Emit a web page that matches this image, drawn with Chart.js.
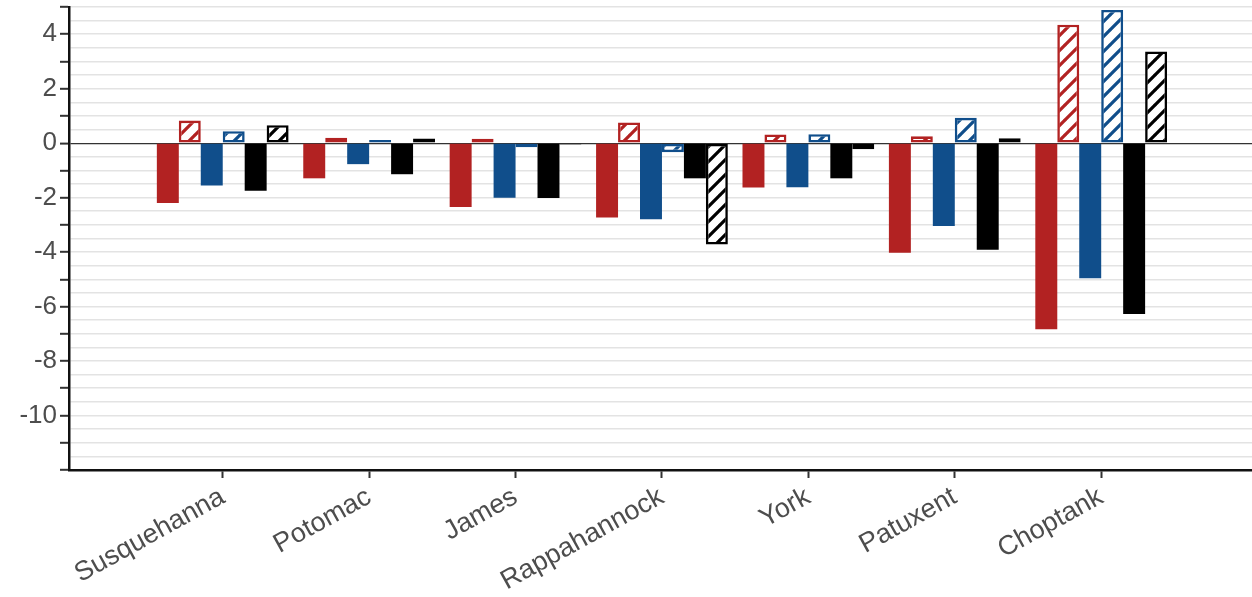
<!DOCTYPE html>
<html>
<head>
<meta charset="utf-8">
<script src="https://cdn.jsdelivr.net/npm/chart.js@4/dist/chart.umd.min.js"></script>
<style>
  html, body { margin: 0; padding: 0; background: #fff; }
  #wrap { width: 1252px; height: 597px; position: relative; }
</style>
</head>
<body>
<div id="wrap"><canvas id="c"></canvas></div>
<script>
// Rivers along the x axis
const categories = ['Susquehanna', 'Potomac', 'James', 'Rappahannock', 'York', 'Patuxent', 'Choptank'];

// Paired series: solid bars and hatched bars for each colour
const redSolid   = [-2.20, -1.29, -2.34, -2.73, -1.63, -4.02, -6.83];
const redHatch   = [ 0.83,  0.20,  0.16,  0.76,  0.32,  0.25,  4.35];
const blueSolid  = [-1.55, -0.77, -2.00, -2.79, -1.62, -3.04, -4.96];
const blueHatch  = [ 0.44,  0.12, -0.15, -0.33,  0.33,  0.93,  4.89];
const blackSolid = [-1.75, -1.14, -2.01, -1.29, -1.29, -3.91, -6.27];
const blackHatch = [ 0.66,  0.17, -0.05, -3.72, -0.22,  0.18,  3.37];

// Y axis range and labelled ticks
const yMin = -12, yMax = 5;
const yLabelled = [-10, -8, -6, -4, -2, 0, 2, 4];

const RED = '#B22222', BLUE = '#104E8B', BLACK = '#000000';
const TEXT = '#4d4d4d';
const FONT = "'Liberation Sans', Arial, sans-serif";

const canvas = document.getElementById('c');
const ctx = canvas.getContext('2d');

// Diagonal stripe fill on white
function hatch(color) {
  const s = 15;
  const t = document.createElement('canvas');
  t.width = s; t.height = s;
  const g = t.getContext('2d');
  g.fillStyle = '#ffffff';
  g.fillRect(0, 0, s, s);
  g.strokeStyle = color;
  g.lineWidth = 3.2;
  g.beginPath();
  for (const k of [-s, 0, s]) {
    g.moveTo(k - 1, s + 1);
    g.lineTo(k + s + 1, -1);
  }
  g.stroke();
  return ctx.createPattern(t, 'repeat');
}

const points = arr => arr.map((v, i) => ({ x: i + 1, y: v }));

function solid(label, arr, color) {
  return { label, data: points(arr), backgroundColor: color, borderWidth: 0 };
}
function striped(label, arr, color) {
  return { label, data: points(arr), backgroundColor: hatch(color), borderColor: color, borderWidth: 2.6, borderSkipped: false };
}

new Chart(canvas, {
  type: 'bar',
  data: {
    datasets: [
      solid('red', redSolid, RED),
      striped('red hatched', redHatch, RED),
      solid('blue', blueSolid, BLUE),
      striped('blue hatched', blueHatch, BLUE),
      solid('black', blackSolid, BLACK),
      striped('black hatched', blackHatch, BLACK)
    ]
  },
  options: {
    responsive: true,
    maintainAspectRatio: false,
    animation: false,
    categoryPercentage: 0.9,
    barPercentage: 1.0,
    layout: { padding: { top: 7, right: 0, left: 0, bottom: 0 } },
    plugins: { legend: { display: false }, tooltip: { enabled: false }, title: { display: false } },
    scales: {
      x: {
        type: 'linear',
        min: -0.05,
        max: 8.03,
        offset: false,
        afterBuildTicks: s => { s.ticks = categories.map((c, i) => ({ value: i + 1 })); },
        afterFit: s => { s.height = 127; s.paddingLeft = 0; s.paddingRight = 0; },
        ticks: {
          autoSkip: false,
          minRotation: 29,
          maxRotation: 29,
          padding: 3,
          color: TEXT,
          font: { family: FONT, size: 27 },
          callback: v => categories[v - 1] || ''
        },
        grid: { drawOnChartArea: false, offset: false, tickLength: 8, tickWidth: 2, tickColor: '#333' },
        border: { color: '#111', width: 2.5 }
      },
      y: {
        min: yMin,
        max: yMax,
        afterBuildTicks: s => {
          const t = [];
          for (let v = yMin; v <= yMax; v += 0.5) t.push({ value: v });
          s.ticks = t;
        },
        afterFit: s => { s.width = 69; s.paddingTop = 0; s.paddingBottom = 0; },
        ticks: {
          autoSkip: false,
          padding: 3,
          color: TEXT,
          font: { family: FONT, size: 26 },
          callback: v => yLabelled.includes(v) ? String(v) : ''
        },
        grid: {
          color: c => (c.tick && c.tick.value === 0) ? '#333333' : '#e3e3e3',
          lineWidth: c => (c.tick && c.tick.value === 0) ? 1.2 : 1.6,
          tickColor: c => (c.tick && Number.isInteger(c.tick.value)) ? '#333333' : 'rgba(0,0,0,0)',
          tickLength: 9,
          tickWidth: 2
        },
        border: { color: '#111', width: 2.5 }
      }
    }
  }
});
</script>
</body>
</html>
